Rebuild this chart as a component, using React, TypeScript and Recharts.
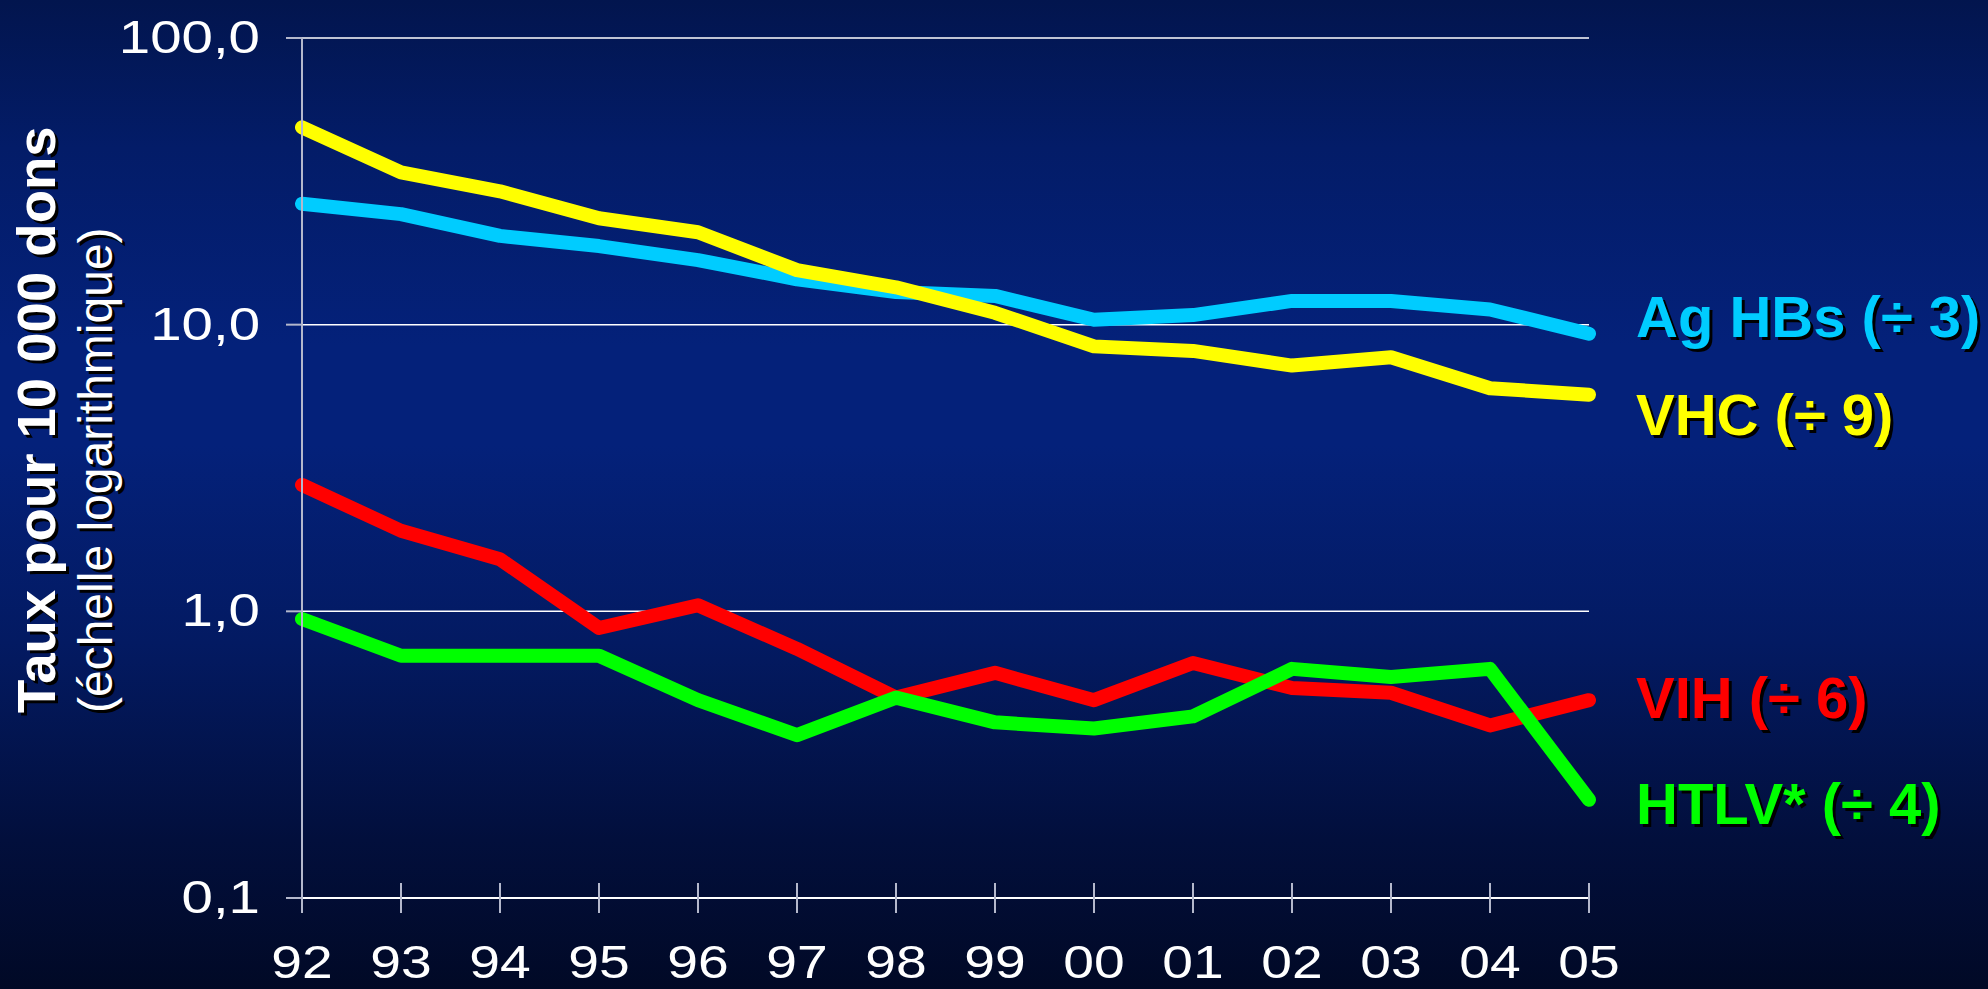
import React from "react";
import { CartesianGrid, LabelList, Line, LineChart, XAxis, YAxis } from "recharts";

// Years on the x axis (two-digit labels, as on the slide).
const years = ["92", "93", "94", "95", "96", "97", "98", "99", "00", "01", "02", "03", "04", "05"];

// Rates per 10 000 donations.
const agHBs = [26.4, 24.3, 20.4, 18.8, 16.8, 14.4, 13.0, 12.6, 10.4, 10.8, 12.1, 12.1, 11.3, 9.3];
const vhc = [48.8, 34.0, 29.2, 23.5, 21.0, 15.5, 13.5, 11.0, 8.4, 8.1, 7.2, 7.7, 6.0, 5.7];
const vih = [2.76, 1.91, 1.52, 0.875, 1.05, 0.74, 0.5, 0.61, 0.49, 0.66, 0.54, 0.52, 0.4, 0.49];
const htlv = [0.94, 0.7, 0.7, 0.7, 0.49, 0.37, 0.5, 0.41, 0.39, 0.43, 0.63, 0.59, 0.63, 0.22];

const yTicks = [0.1, 1, 10, 100];
const yTickLabels = ["0,1", "1,0", "10,0", "100,0"];

const W = 1988;
const H = 989;
const FONT = '"Liberation Sans", Arial, sans-serif';
// the embedded chart was stretched horizontally on the slide
const STRETCH = 1.2;

const data = years.map((year, i) => ({
  year,
  agHBs: agHBs[i],
  vhc: vhc[i],
  vih: vih[i],
  htlv: htlv[i],
}));

// dy = offset of the label baseline from the last point of its line
const series = [
  { key: "agHBs", color: "#00CCFF", label: "Ag HBs (÷ 3)", dy: 3 },
  { key: "vhc", color: "#FFFF00", label: "VHC (÷ 9)", dy: 40 },
  { key: "vih", color: "#FF0000", label: "VIH (÷ 6)", dy: 18 },
  { key: "htlv", color: "#00FF00", label: "HTLV* (÷ 4)", dy: 24 },
];

function YTick({ x, y, payload }: any) {
  const label = yTickLabels[yTicks.indexOf(payload.value)];
  return (
    <text
      transform={`translate(${x},${y + 15}) scale(${STRETCH},1)`}
      textAnchor="end"
      fill="#ffffff"
      fontSize={47}
      fontFamily={FONT}
    >
      {label}
    </text>
  );
}

// tick line crosses the axis, so it is drawn here rather than by recharts
function XTick({ x, y, payload }: any) {
  return (
    <g>
      <line x1={x} x2={x} y1={y - 30} y2={y} stroke="#b4b8cc" strokeWidth={2} />
      <text
        transform={`translate(${x},${y + 65}) scale(${STRETCH},1)`}
        textAnchor="middle"
        fill="#ffffff"
        fontSize={46}
        fontFamily={FONT}
      >
        {payload.value}
      </text>
    </g>
  );
}

function endLabel(props: any, s: (typeof series)[number]) {
  if (props.index !== years.length - 1) return null;
  const x = (props.viewBox?.x ?? props.x) + 47;
  const y = (props.viewBox?.y ?? props.y) + s.dy;
  const common = { fontSize: 58, fontWeight: 700, fontFamily: FONT };
  return (
    <g>
      <text x={x + 3} y={y + 3} fill="#000000" {...common}>
        {s.label}
      </text>
      <text x={x} y={y} fill={s.color} {...common}>
        {s.label}
      </text>
    </g>
  );
}

export default function App() {
  return (
    <div
      style={{
        position: "absolute",
        left: 0,
        top: 0,
        width: W,
        height: H,
        overflow: "hidden",
        background:
          "linear-gradient(to bottom, #02154e 0%, #031c68 15%, #04217a 35%, #04217a 45%, #031a62 65%, #020f3c 85%, #010926 100%)",
      }}
    >
      <style>{"body{margin:0;overflow:hidden}"}</style>
      <LineChart width={W} height={H} data={data} margin={{ top: 38, right: 399, bottom: 0, left: 0 }}>
        <CartesianGrid vertical={false} stroke="#ffffff" strokeWidth={1.5} />
        <XAxis
          dataKey="year"
          height={91}
          interval={0}
          axisLine={{ stroke: "#ffffff", strokeWidth: 2 }}
          tickLine={false}
          tickSize={15}
          tickMargin={0}
          tick={<XTick />}
        />
        <YAxis
          scale="log"
          domain={[0.1, 100]}
          ticks={yTicks}
          width={302}
          interval={0}
          axisLine={{ stroke: "#b4b8cc", strokeWidth: 2 }}
          tickLine={{ stroke: "#b4b8cc", strokeWidth: 2 }}
          tickSize={16}
          tickMargin={26}
          tick={<YTick />}
        />
        {series.map((s) => (
          <Line
            key={s.key}
            type="linear"
            dataKey={s.key}
            stroke={s.color}
            strokeWidth={14}
            strokeLinecap="round"
            strokeLinejoin="round"
            dot={false}
            activeDot={false}
            isAnimationActive={false}
          >
            <LabelList dataKey={s.key} content={(p: any) => endLabel(p, s)} />
          </Line>
        ))}
      </LineChart>
      <svg width={W} height={H} style={{ position: "absolute", left: 0, top: 0, pointerEvents: "none" }}>
        <g fontFamily={FONT}>
          <text transform="rotate(-90 58 716)" x={58} y={716} fill="#000000" fontSize={54.5} fontWeight={700}>
            Taux pour 10 000 dons
          </text>
          <text transform="rotate(-90 55 713)" x={55} y={713} fill="#ffffff" fontSize={54.5} fontWeight={700}>
            Taux pour 10 000 dons
          </text>
          <text transform="rotate(-90 115 716)" x={115} y={716} fill="#000000" fontSize={48}>
            (échelle logarithmique)
          </text>
          <text transform="rotate(-90 112 713)" x={112} y={713} fill="#ffffff" fontSize={48}>
            (échelle logarithmique)
          </text>
        </g>
      </svg>
    </div>
  );
}
